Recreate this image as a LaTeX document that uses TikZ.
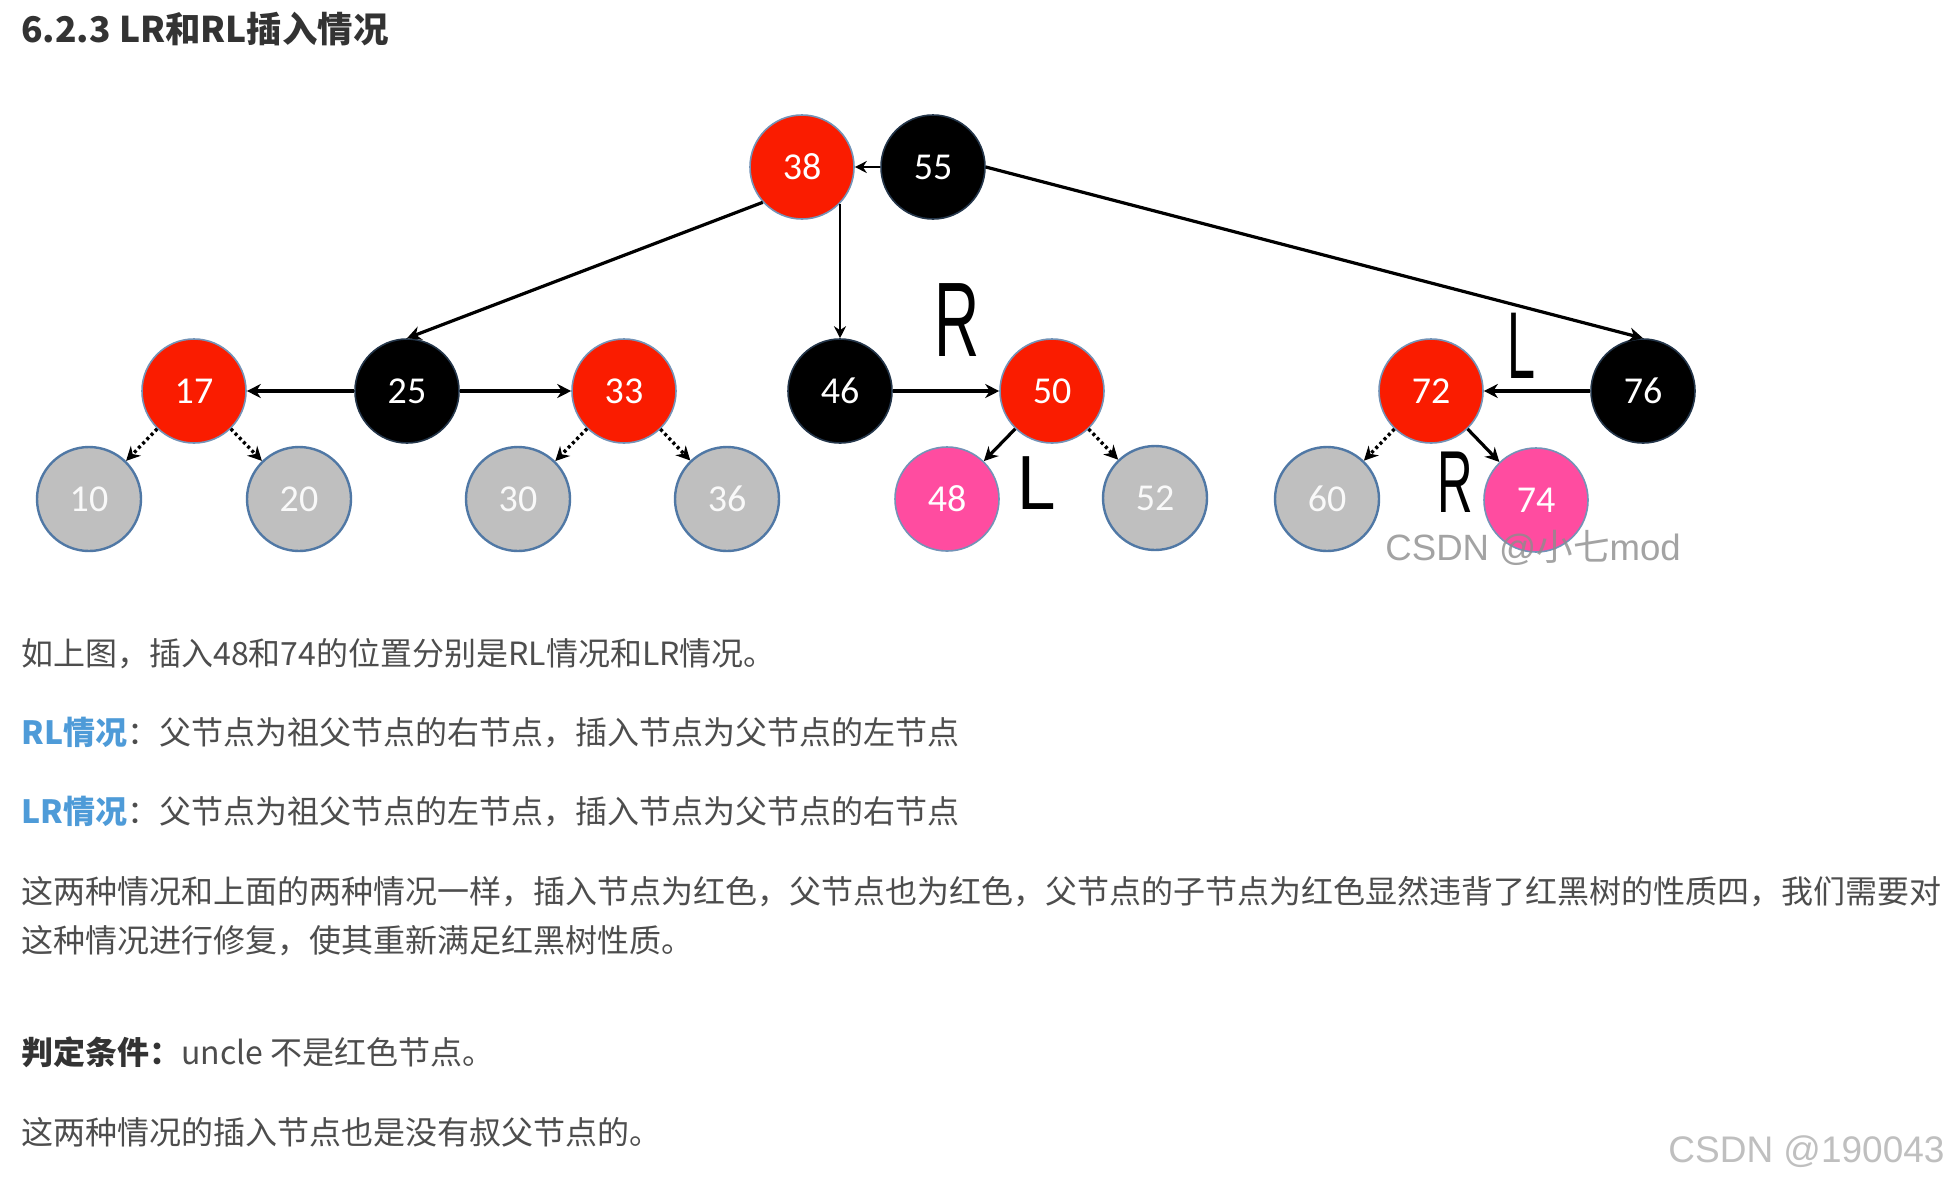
\documentclass[tikz,border=0pt]{standalone}
\usepackage{fontspec}
\usepackage{graphicx}
\usetikzlibrary{arrows.meta}
\newfontfamily\cjk{Noto Sans CJK SC}
\newfontfamily\numfont{Carlito}
\newfontfamily\handfont{Liberation Sans}
\definecolor{nred}{RGB}{250,28,0}
\definecolor{npink}{RGB}{255,76,160}
\definecolor{ngray}{RGB}{191,191,191}
\definecolor{nedge}{RGB}{80,120,165}
\definecolor{txt}{RGB}{77,77,77}
\definecolor{ttl}{RGB}{51,51,51}
\definecolor{hlblue}{RGB}{78,155,216}
\definecolor{wmark}{RGB}{140,140,140}
\begin{document}
\begin{tikzpicture}[x=0.5pt,y=-0.5pt,
  rb/.style={circle,minimum size=52pt,inner sep=0pt,line width=0.8pt,
    font=\numfont\fontsize{19pt}{21pt}\selectfont,text=white},
  redn/.style={rb,fill=nred,draw=nedge!80},
  blkn/.style={rb,fill=black,draw=nedge!45!black},
  grayn/.style={rb,fill=ngray,draw=nedge,line width=1.2pt,text=white!95!gray},
  pinkn/.style={rb,fill=npink,draw=nedge!80},
  arr/.style={line width=1.6pt,-{Stealth[length=7pt,width=7pt]}},
  thinarr/.style={line width=1.15pt,-{Stealth[length=6pt,width=6pt]}},
  darr/.style={line width=1.7pt,dash pattern=on 1.5pt off 1.5pt,-{Stealth[length=7pt,width=7pt]}},
  body/.style={anchor=base west,inner sep=0pt,text=txt,font=\cjk\fontsize{16pt}{20pt}\selectfont},
  hand/.style={inner sep=0pt,text=black,font=\handfont}
]
\useasboundingbox (0,0) rectangle (1952,1184);
\fill[white] (0,0) rectangle (1952,1184);

% title
\node[anchor=base west,inner sep=0pt,text=ttl,font=\cjk\bfseries\fontsize{17.7pt}{22pt}\selectfont] (title) at (21,42) {6.2.3 LR和RL插入情况};

% nodes
\node[redn] (n38) at (802,167) {38};
\node[blkn] (n55) at (933,167) {55};
\node[redn] (n17) at (194,391) {17};
\node[blkn] (n25) at (407,391) {25};
\node[redn] (n33) at (624,391) {33};
\node[blkn] (n46) at (840,391) {46};
\node[redn] (n50) at (1052,391) {50};
\node[redn] (n72) at (1431,391) {72};
\node[blkn] (n76) at (1643,391) {76};
\node[grayn] (n10) at (89,499) {10};
\node[grayn] (n20) at (299,499) {20};
\node[grayn] (n30) at (518,499) {30};
\node[grayn] (n36) at (727,499) {36};
\node[pinkn] (n48) at (947,499) {48};
\node[grayn] (n52) at (1155,498) {52};
\node[grayn] (n60) at (1327,499) {60};
\node[pinkn] (n74) at (1536,500) {74};

% connectors
\draw[thinarr] (n55) -- (n38);
\draw[arr] (n38.222) -- (n25.north);
\draw[thinarr] (n38.-45 -| n46.north) -- (n46.north);
\draw[arr] (n55.east) -- (n76.north);
\draw[arr] (n25) -- (n17);
\draw[arr] (n25) -- (n33);
\draw[arr] (n46) -- (n50);
\draw[arr] (n76) -- (n72);
\draw[darr] (n17) -- (n10);
\draw[darr] (n17) -- (n20);
\draw[darr] (n33) -- (n30);
\draw[darr] (n33) -- (n36);
\draw[darr] (n50) -- (n52);
\draw[darr] (n72) -- (n60);
\draw[arr] (n50) -- (n48);
\draw[arr] (n72) -- (n74);

% handwritten labels
\node[hand] (hR1) at (957,320) {\fontsize{53pt}{60pt}\selectfont\scalebox{0.59}[1]{R}};
\node[hand] (hL1) at (1037,483) {\fontsize{38.4pt}{44pt}\selectfont\scalebox{0.9}[1]{L}};
\node[hand] (hL2) at (1521,346) {\fontsize{47.5pt}{54pt}\selectfont\scalebox{0.53}[1]{L}};
\node[hand] (hR2) at (1455,482) {\fontsize{44pt}{50pt}\selectfont\scalebox{0.56}[1]{R}};

% watermark on picture
\node[anchor=base west,inner sep=0pt,text=wmark,opacity=0.8,font=\handfont\fontsize{18.3pt}{20pt}\selectfont] (wm1) at (1385,560) {CSDN @{\cjk 小七}mod};

% body text
\node[body] (l1) at (21,665) {如上图，插入48和74的位置分别是RL情况和LR情况。};
\node[body] (l2) at (21,744) {{\bfseries\color{hlblue}RL情况}：父节点为祖父节点的右节点，插入节点为父节点的左节点};
\node[body] (l3) at (21,823) {{\bfseries\color{hlblue}LR情况}：父节点为祖父节点的左节点，插入节点为父节点的右节点};
\node[body] (l4) at (21,903) {这两种情况和上面的两种情况一样，插入节点为红色，父节点也为红色，父节点的子节点为红色显然违背了红黑树的性质四，我们需要对};
\node[body] (l5) at (21,952) {这种情况进行修复，使其重新满足红黑树性质。};
\node[body] (l6) at (21,1064) {{\bfseries\color{ttl}判定条件：}uncle 不是红色节点。};
\node[body] (l7) at (21,1144) {这两种情况的插入节点也是没有叔父节点的。};

% bottom watermark
\node[anchor=base west,inner sep=0pt,text=black!25,font=\handfont\fontsize{18.5pt}{20pt}\selectfont] (wm2) at (1668,1162) {CSDN @190043};
\end{tikzpicture}
\end{document}
